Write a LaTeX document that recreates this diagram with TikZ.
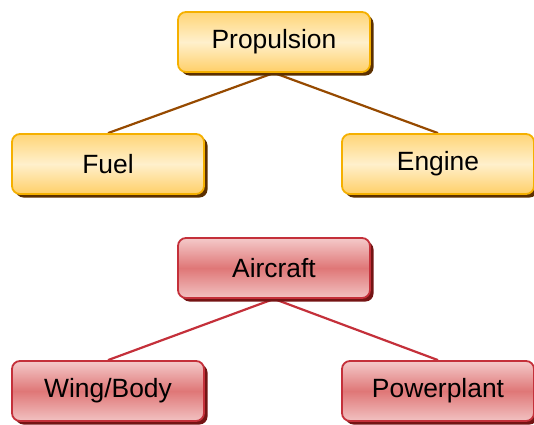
\documentclass[tikz,border=0pt]{standalone}
\usepackage{fontspec}
\setmainfont{Liberation Sans}
\usetikzlibrary{shadows,backgrounds}
\definecolor{ybord}{HTML}{F5B000}
\definecolor{ytop}{HTML}{FFD577}
\definecolor{ymid}{HTML}{FFF0CC}
\definecolor{ybot}{HTML}{FFCF68}
\definecolor{yshad}{HTML}{5C3000}
\definecolor{yline}{HTML}{964A00}
\definecolor{rbord}{HTML}{C4303A}
\definecolor{rtop}{HTML}{F4CACA}
\definecolor{rmid}{HTML}{DF7777}
\definecolor{rbot}{HTML}{F2C2C2}
\definecolor{rshad}{HTML}{741414}
\definecolor{rline}{HTML}{C4303A}
\tikzset{
  box/.style={rectangle, rounded corners=8bp, line width=1.8bp,
    minimum width=192bp, minimum height=60bp, inner sep=0pt,
    font=\fontsize{26.5}{30}\selectfont, text=black},
  ybox/.style={box, draw=ybord, top color=ytop, bottom color=ybot, middle color=ymid,
    drop shadow={shadow xshift=3.5bp, shadow yshift=-3.5bp, fill=yshad, opacity=1}},
  rbox/.style={box, draw=rbord, top color=rtop, bottom color=rbot, middle color=rmid,
    drop shadow={shadow xshift=3.5bp, shadow yshift=-3.5bp, fill=rshad, opacity=1}},
  yconn/.style={draw=yline, line width=2.2bp},
  rconn/.style={draw=rline, line width=2.2bp}
}
\begin{document}
\begin{tikzpicture}[x=1bp,y=-1bp]
\useasboundingbox (0,0) rectangle (534,424);
\node[ybox] (prop) at (274,42) {Propulsion};
\node[ybox] (fuel) at (108,164) {Fuel};
\node[ybox] (eng) at (438,164) {Engine};
\node[rbox] (air) at (274,268) {Aircraft};
\node[rbox] (wing) at (108,391) {Wing/Body};
\node[rbox] (pow) at (438,391) {Powerplant};
\begin{scope}[on background layer]
\draw[yconn] (prop.south) -- (fuel.north);
\draw[yconn] (prop.south) -- (eng.north);
\draw[rconn] (air.south) -- (wing.north);
\draw[rconn] (air.south) -- (pow.north);
\end{scope}
\end{tikzpicture}
\end{document}
